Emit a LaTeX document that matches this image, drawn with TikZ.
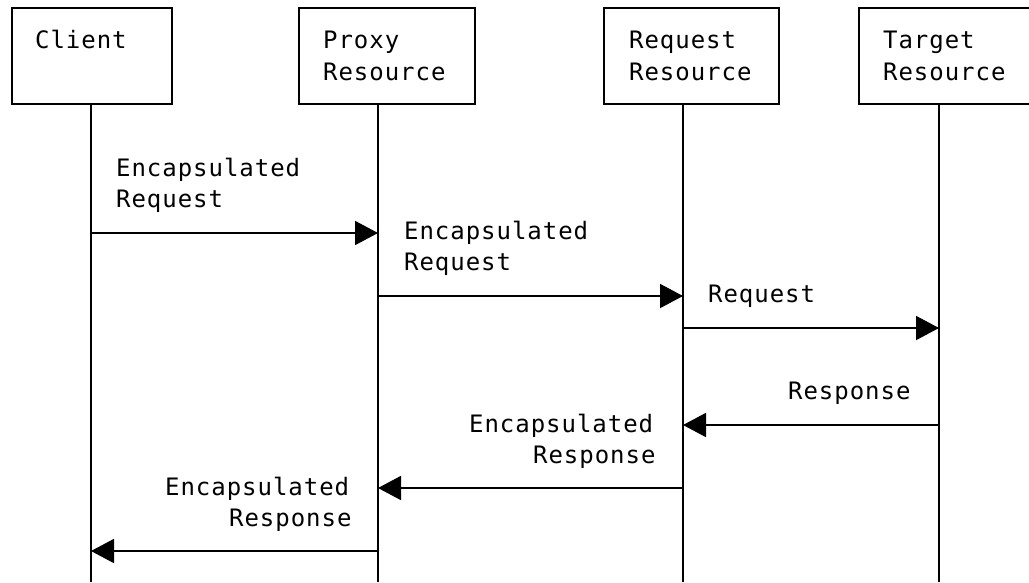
\documentclass[tikz,border=0pt]{standalone}
\usepackage{fontspec}
\usetikzlibrary{arrows.meta}
\newfontfamily\diagmono[LetterSpace=4]{DejaVu Sans Mono}
\begin{document}
\begin{tikzpicture}[x=1pt,y=-1pt,
  actor/.style={draw, line width=1.8pt, minimum height=96pt, anchor=north west, inner sep=0pt},
  txt/.style={font=\diagmono\fontsize{24}{31}\selectfont, inner sep=0pt, anchor=base west},
  life/.style={line width=1.8pt},
  msg/.style={line width=1.8pt, -{Triangle[length=23pt,width=24pt]}}]
\useasboundingbox (0,0) rectangle (1029,582);
\clip (0,0) rectangle (1029,582);
\fill[white] (0,0) rectangle (1029,582);
% actor boxes
\node[actor, minimum width=160pt] (client)  at (11,7)  {};
\node[actor, minimum width=176pt] (proxy)   at (298,7) {};
\node[actor, minimum width=175pt] (request) at (603,7) {};
\node[actor, minimum width=176pt] (target)  at (858,7) {};
\node[txt] (clientA)  at (35,48)  {Client};
\node[txt] (proxyA)   at (323,48) {Proxy};
\node[txt] (proxyB)   at (323,80) {Resource};
\node[txt] (requestA) at (629,48) {Request};
\node[txt] (requestB) at (629,80) {Resource};
\node[txt] (targetA)  at (883,48) {Target};
\node[txt] (targetB)  at (883,80) {Resource};
% lifelines
\coordinate (lc) at (91,103);
\coordinate (lp) at (378,103);
\coordinate (lr) at (683,103);
\coordinate (lt) at (939,103);
\coordinate (bottom) at (0,582);
\foreach \l in {lc,lp,lr,lt} {\draw[life] (\l) -- (\l |- bottom);}
% messages
\draw[msg] (lc |- 0,233) -- (lp |- 0,233);
\draw[msg] (lp |- 0,296) -- (lr |- 0,296);
\draw[msg] (lr |- 0,328) -- (lt |- 0,328);
\draw[msg] (lt |- 0,425) -- (lr |- 0,425);
\draw[msg] (lr |- 0,488) -- (lp |- 0,488);
\draw[msg] (lp |- 0,551) -- (lc |- 0,551);
% labels
\node[txt] (m1a) at (116,176) {Encapsulated};
\node[txt] (m1b) at (116,207) {Request};
\node[txt] (m2a) at (404,239) {Encapsulated};
\node[txt] (m2b) at (404,270) {Request};
\node[txt] (m3a) at (708,302) {Request};
\node[txt] (m4a) at (788,399) {Response};
\node[txt] (m5a) at (469,432) {Encapsulated};
\node[txt] (m5b) at (533,463) {Response};
\node[txt] (m6a) at (165,495) {Encapsulated};
\node[txt] (m6b) at (229,526) {Response};
\end{tikzpicture}
\end{document}
